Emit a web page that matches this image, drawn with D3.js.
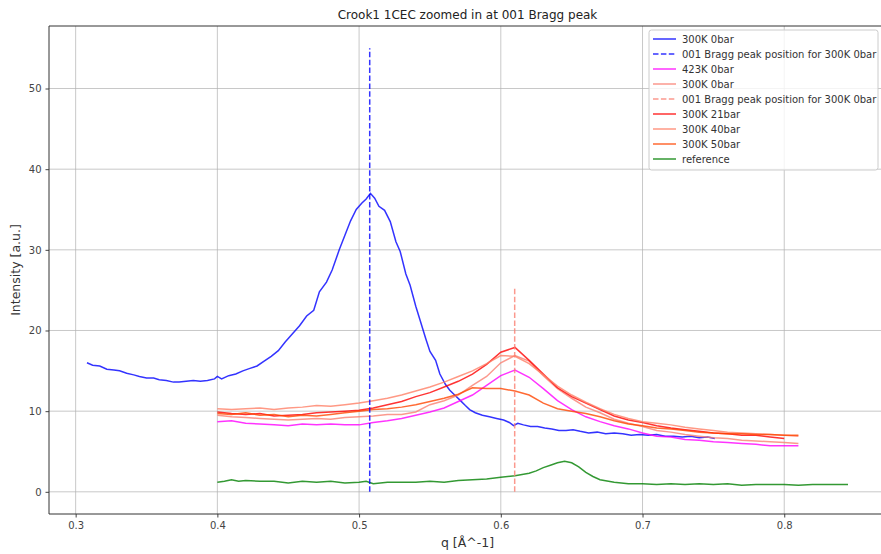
<!DOCTYPE html>
<html>
<head>
<meta charset="utf-8">
<script src="https://cdn.jsdelivr.net/npm/d3@7"></script>
<style>
  body { margin: 0; background: #fff; }
  text { font-family: "DejaVu Sans", sans-serif; }
</style>
</head>
<body>
<div id="plot"></div>
<script>
// q values for the 300K 0bar (blue) scan
qBlue = [0.308,0.312,0.317,0.322,0.327,0.331,0.336,0.341,0.345,0.350,0.355,0.359,0.364,0.369,0.373,0.378,0.383,0.388,0.393,0.398,0.400,0.403,0.408,0.413,0.418,0.423,0.428,0.433,0.438,0.443,0.448,0.453,0.458,0.463,0.468,0.472,0.477,0.481,0.486,0.490,0.494,0.498,0.502,0.505,0.508,0.511,0.514,0.518,0.522,0.526,0.529,0.533,0.536,0.540,0.543,0.547,0.550,0.554,0.557,0.561,0.564,0.568,0.571,0.575,0.578,0.582,0.587,0.592,0.597,0.602,0.606,0.609,0.612,0.616,0.621,0.626,0.631,0.636,0.641,0.646,0.651,0.656,0.662,0.668,0.674,0.680,0.686,0.692,0.698,0.704,0.710,0.716,0.722,0.728,0.734,0.740,0.746,0.751]
iBlue = [16.0,15.7,15.6,15.2,15.1,15.0,14.7,14.5,14.3,14.1,14.1,13.9,13.8,13.6,13.6,13.7,13.8,13.7,13.8,14.0,14.3,14.0,14.4,14.6,15.0,15.3,15.6,16.2,16.8,17.5,18.6,19.6,20.6,21.8,22.5,24.8,26.0,27.5,30.0,31.8,33.6,35.0,35.8,36.3,37.0,36.4,35.4,34.9,33.5,31.0,29.8,27.0,25.6,23.0,21.3,19.0,17.4,16.3,14.6,13.3,12.6,11.9,11.4,10.7,10.2,9.8,9.5,9.3,9.1,8.9,8.6,8.2,8.5,8.3,8.1,8.1,7.9,7.8,7.6,7.6,7.7,7.5,7.3,7.4,7.2,7.3,7.2,7.0,7.1,7.0,7.1,6.9,6.9,6.8,6.9,6.7,6.8,6.6]

// q values shared by the other high-q scans
qScan = [0.40,0.41,0.42,0.43,0.44,0.45,0.46,0.47,0.48,0.49,0.50,0.51,0.52,0.53,0.54,0.55,0.56,0.57,0.58,0.59,0.60,0.61,0.62,0.63,0.64,0.65,0.66,0.67,0.68,0.69,0.70,0.71,0.72,0.73,0.74,0.75,0.76,0.77,0.78,0.79,0.80,0.81]
i423K = [8.7,8.8,8.5,8.4,8.3,8.2,8.4,8.3,8.4,8.3,8.3,8.6,8.8,9.1,9.5,9.9,10.4,11.2,12.0,13.2,14.4,15.1,14.2,12.8,11.3,10.2,9.3,8.7,8.2,7.8,7.3,6.9,6.8,6.5,6.4,6.2,6.1,6.0,5.9,5.7,5.7,5.7]
i300K = [9.5,9.3,9.2,9.1,9.0,8.9,9.0,9.1,9.0,9.2,9.3,9.4,9.6,9.6,9.9,10.8,11.3,12.0,13.2,14.3,16.0,16.9,16.2,14.4,12.8,11.6,10.5,9.8,9.0,8.5,8.1,7.6,7.4,7.1,6.9,6.7,6.6,6.4,6.3,6.2,6.1,6.0]
i21bar = [9.9,9.7,9.6,9.7,9.4,9.5,9.6,9.8,9.9,10.0,10.1,10.4,10.8,11.2,11.8,12.3,13.0,13.7,14.6,15.8,17.3,17.9,16.3,14.6,12.9,11.8,11.0,10.2,9.4,8.9,8.6,8.2,7.9,7.7,7.5,7.3,7.2,7.0,7.0,6.8,6.6,null]
i40bar = [10.3,10.2,10.3,10.4,10.2,10.4,10.5,10.7,10.6,10.8,11.0,11.3,11.6,12.0,12.5,13.0,13.6,14.3,15.0,15.9,16.9,16.8,15.9,14.5,13.1,12.0,11.1,10.3,9.6,9.1,8.7,8.5,8.3,8.0,7.8,7.6,7.4,7.3,7.2,7.1,7.0,6.9]
i50bar = [9.7,9.6,9.8,9.5,9.6,9.3,9.5,9.4,9.6,9.8,10.0,10.2,10.3,10.5,10.8,11.2,11.6,12.1,12.9,12.8,12.8,12.5,12.0,11.0,10.3,10.0,9.7,9.3,8.8,8.4,8.2,7.9,7.8,7.6,7.4,7.3,7.2,7.2,7.1,7.1,7.0,7.0]

// reference sample
qRef = [0.400,0.405,0.410,0.415,0.420,0.430,0.440,0.450,0.460,0.470,0.480,0.490,0.500,0.505,0.510,0.520,0.530,0.540,0.550,0.560,0.570,0.580,0.590,0.600,0.610,0.620,0.625,0.630,0.635,0.640,0.645,0.650,0.655,0.660,0.665,0.670,0.680,0.690,0.700,0.710,0.720,0.730,0.740,0.750,0.760,0.770,0.780,0.790,0.800,0.810,0.820,0.830,0.845]
iRef = [1.2,1.3,1.5,1.3,1.4,1.3,1.3,1.1,1.3,1.2,1.3,1.1,1.2,1.3,1.0,1.2,1.2,1.2,1.3,1.2,1.4,1.5,1.6,1.8,2.0,2.3,2.6,3.0,3.3,3.6,3.8,3.6,3.1,2.4,1.9,1.5,1.2,1.0,1.0,0.9,1.0,0.9,1.0,0.9,1.0,0.8,0.9,0.9,0.9,0.8,0.9,0.9,0.9]

// Bragg peak markers: [q, top]
braggBlue = [0.5075, 55]
braggSalmon = [0.6098, 25.3]

xTicks = [0.3, 0.4, 0.5, 0.6, 0.7, 0.8]
yTicks = [0, 10, 20, 30, 40, 50]

W = 881; H = 554
m = {left: 49, top: 26, right: 886, bottom: 514}

x = d3.scaleLinear().domain([0.2812, 0.8718]).range([m.left, m.right])
y = d3.scaleLinear().domain([-2.75, 57.75]).range([m.bottom, m.top])

svg = d3.select("#plot").append("svg").attr("width", W).attr("height", H)

svg.append("clipPath").attr("id", "clip").append("rect")
  .attr("x", m.left).attr("y", m.top).attr("width", m.right - m.left).attr("height", m.bottom - m.top)

// grid
svg.append("g").selectAll("line").data(xTicks).join("line")
  .attr("x1", d => x(d)).attr("x2", d => x(d)).attr("y1", m.top).attr("y2", m.bottom)
  .attr("stroke", "#b0b0b0").attr("stroke-opacity", 0.7).attr("stroke-width", 1)
svg.append("g").selectAll("line").data(yTicks).join("line")
  .attr("y1", d => y(d)).attr("y2", d => y(d)).attr("x1", m.left).attr("x2", m.right)
  .attr("stroke", "#b0b0b0").attr("stroke-opacity", 0.7).attr("stroke-width", 1)

series = [
  {label: "300K 0bar", q: qBlue, v: iBlue, color: "blue"},
  {label: "423K 0bar", q: qScan, v: i423K, color: "magenta"},
  {label: "300K 0bar", q: qScan, v: i300K, color: "salmon"},
  {label: "300K 21bar", q: qScan, v: i21bar, color: "red"},
  {label: "300K 40bar", q: qScan, v: i40bar, color: "#ff7f66"},
  {label: "300K 50bar", q: qScan, v: i50bar, color: "orangered"},
  {label: "reference", q: qRef, v: iRef, color: "green"}
]

line = d3.line().defined(d => d[1] != null).x(d => x(d[0])).y(d => y(d[1]))

plot = svg.append("g").attr("clip-path", "url(#clip)")

plot.selectAll("path.s").data(series).join("path")
  .attr("class", "s")
  .attr("d", s => line(s.q.map((q, i) => [q, s.v[i]])))
  .attr("fill", "none").attr("stroke", s => s.color).attr("stroke-opacity", 0.8).attr("stroke-width", 1.5)

// vertical Bragg lines
plot.append("line")
  .attr("x1", x(braggBlue[0])).attr("x2", x(braggBlue[0])).attr("y1", y(0)).attr("y2", y(braggBlue[1]))
  .attr("stroke", "blue").attr("stroke-opacity", 0.8).attr("stroke-width", 1.5).attr("stroke-dasharray", "5.5,2.4")
plot.append("line")
  .attr("x1", x(braggSalmon[0])).attr("x2", x(braggSalmon[0])).attr("y1", y(0)).attr("y2", y(braggSalmon[1]))
  .attr("stroke", "salmon").attr("stroke-opacity", 0.8).attr("stroke-width", 1.5).attr("stroke-dasharray", "5.5,2.4")

// axes
xAxis = svg.append("g").attr("transform", `translate(0,${m.bottom})`)
  .call(d3.axisBottom(x).tickValues(xTicks).tickFormat(d3.format(".1f")).tickSize(3.5).tickPadding(4))
yAxis = svg.append("g").attr("transform", `translate(${m.left},0)`)
  .call(d3.axisLeft(y).tickValues(yTicks).tickSize(3.5).tickPadding(4))
for (g of [xAxis, yAxis]) {
  g.select(".domain").remove()
  g.selectAll("text").attr("font-size", 10).attr("fill", "#444").attr("font-family", "DejaVu Sans")
  g.selectAll("line").attr("stroke", "#444")
}

// spines
svg.append("path")
  .attr("d", `M${m.right},${m.top}H${m.left}V${m.bottom}H${m.right}`)
  .attr("fill", "none").attr("stroke", "#333").attr("stroke-width", 1)

svg.append("text").attr("x", (m.left + m.right) / 2).attr("y", 19).attr("text-anchor", "middle")
  .attr("font-size", 12).attr("fill", "#222").text("Crook1 1CEC zoomed in at 001 Bragg peak")
svg.append("text").attr("x", (m.left + m.right) / 2).attr("y", 547).attr("text-anchor", "middle")
  .attr("font-size", 12.5).attr("fill", "#333").text("q [Å^-1]")
svg.append("text").attr("transform", `translate(20,${(m.top + m.bottom) / 2}) rotate(-90)`).attr("text-anchor", "middle")
  .attr("font-size", 12.5).attr("fill", "#333").text("Intensity [a.u.]")

// legend
legendItems = [
  {label: "300K 0bar", color: "blue", dash: null},
  {label: "001 Bragg peak position for 300K 0bar", color: "blue", dash: "5.5,2.4"},
  {label: "423K 0bar", color: "magenta", dash: null},
  {label: "300K 0bar", color: "salmon", dash: null},
  {label: "001 Bragg peak position for 300K 0bar", color: "salmon", dash: "5.5,2.4"},
  {label: "300K 21bar", color: "red", dash: null},
  {label: "300K 40bar", color: "#ff7f66", dash: null},
  {label: "300K 50bar", color: "orangered", dash: null},
  {label: "reference", color: "green", dash: null}
]
lg = svg.append("g").attr("transform", "translate(649,30)")
lg.append("rect").attr("width", 229).attr("height", 140).attr("rx", 2.5)
  .attr("fill", "white").attr("fill-opacity", 0.8).attr("stroke", "#ccc")
row = lg.selectAll("g").data(legendItems).join("g").attr("transform", (d, i) => `translate(0,${9 + i * 15})`)
row.append("line").attr("x1", 4).attr("x2", 27).attr("stroke", d => d.color).attr("stroke-opacity", 0.8)
  .attr("stroke-width", 1.5).attr("stroke-dasharray", d => d.dash)
row.append("text").attr("x", 33).attr("y", 3.5).attr("font-size", 10).attr("fill", "#333").text(d => d.label)
</script>
</body>
</html>
